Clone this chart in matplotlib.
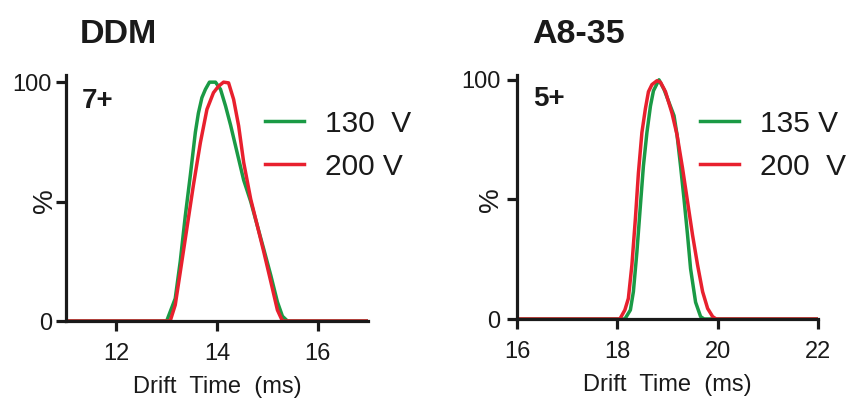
import matplotlib
matplotlib.use("Agg")
import matplotlib.pyplot as plt

plt.rcParams['font.family'] = ['Liberation Sans', 'DejaVu Sans']

# ---- data: DDM, charge state 7+ ----
ddm_130_t = [11.0, 12.9, 13.0, 13.17, 13.27, 13.37, 13.47, 13.57, 13.63, 13.70, 13.77, 13.85,
             13.97, 14.07, 14.17, 14.27, 14.40, 14.53, 14.67, 14.80, 14.93, 15.07, 15.20,
             15.30, 15.40, 17.0]
ddm_130_i = [0, 0, 0, 9.4, 25, 44, 61, 79, 87, 93.5, 97, 100,
             100, 97, 90, 82, 70.5, 59, 50, 40, 30, 19, 8,
             2, 0, 0]
ddm_200_t = [11.0, 13.0, 13.07, 13.17, 13.27, 13.40, 13.53, 13.67, 13.80, 13.93, 14.03, 14.13,
             14.23, 14.33, 14.43, 14.53, 14.67, 14.80, 14.93, 15.07, 15.20, 15.30, 17.0]
ddm_200_i = [0, 0, 0, 6.7, 20.5, 38.6, 56.7, 74.7, 88.6, 95.6, 98.3, 100,
             99.7, 92.8, 81.7, 66.4, 51, 40, 28.9, 16.4, 4.6, 0, 0]

# ---- data: A8-35, charge state 5+ ----
a835_135_t = [16.0, 18.15, 18.26, 18.32, 18.39, 18.46, 18.52, 18.59, 18.66, 18.72, 18.83,
              18.93, 19.03, 19.13, 19.19, 19.26, 19.33, 19.40, 19.46, 19.56, 19.66, 19.73, 22.0]
a835_135_i = [0, 0, 3.75, 11.4, 28, 47.5, 64, 78, 89, 95.4, 100,
              96, 90.5, 85, 77, 64, 50, 35, 21, 7, 1, 0, 0]
a835_200_t = [16.0, 18.05, 18.15, 18.22, 18.29, 18.36, 18.42, 18.49, 18.56, 18.62, 18.69, 18.79,
              18.86, 18.96, 19.09, 19.19, 19.30, 19.40, 19.50, 19.60, 19.70, 19.80, 19.90,
              19.97, 22.0]
a835_200_i = [0, 0, 3.75, 8.6, 22.5, 42, 61, 78, 88, 95, 98, 99.6,
              99, 95, 86, 77, 63, 49, 35, 22.5, 11.4, 4.4, 1,
              0, 0]

left_xticks = [12, 14, 16]
right_xticks = [16, 18, 20, 22]
yticks = [0, 50, 100]
yticklabels = ['0', '', '100']

GREEN = '#1a9a45'
RED = '#e8202e'
INK = '#1a1a1a'

fig = plt.figure(figsize=(8.52, 4.03), dpi=100)

ax1 = fig.add_axes([66/852, 82/403, 302/852, 246/403])
ax2 = fig.add_axes([517/852, 84/403, 301/852, 244/403])

panels = [
    (ax1, ddm_130_t, ddm_130_i, '130  V', ddm_200_t, ddm_200_i, '200 V',
     (11, 17), left_xticks, 103, 'DDM', '7+', 80/852, -0.026, 0.659, 0.858, 3),
    (ax2, a835_135_t, a835_135_i, '135 V', a835_200_t, a835_200_i, '200  V',
     (16, 22), right_xticks, 102, 'A8-35', '5+', 532/852, -0.043, 0.608, 0.857, 5),
]

for (ax, gt, gi, glab, rt, ri, rlab, xlim, xt, ytop, title, charge, tx, ylx,
     legx, legy, ypad) in panels:
    ax.plot(gt, gi, color=GREEN, lw=2.5, label=glab, solid_joinstyle='round')
    ax.plot(rt, ri, color=RED, lw=2.5, label=rlab, solid_joinstyle='round')
    ax.set_xlim(*xlim)
    ax.set_ylim(0, ytop)
    ax.set_xticks(xt)
    ax.set_yticks(yticks)
    ax.set_yticklabels(yticklabels)
    for s in ['top', 'right']:
        ax.spines[s].set_visible(False)
    for s in ['left', 'bottom']:
        ax.spines[s].set_linewidth(2.3)
        ax.spines[s].set_color(INK)
    ax.tick_params(axis='both', direction='out', length=7, width=2.3, color=INK,
                   labelsize=17, labelcolor=INK)
    ax.tick_params(axis='x', pad=9)
    ax.tick_params(axis='y', pad=ypad)
    ax.set_xlabel('Drift  Time  (ms)', fontsize=17, color=INK, labelpad=8)
    ax.set_ylabel('%', fontsize=20, color=INK)
    ax.yaxis.set_label_coords(ylx, 0.49)
    ax.text(0.053, 89, charge, transform=ax.get_yaxis_transform(), fontsize=20,
            fontweight='bold', color=INK, va='baseline', ha='left')
    fig.text(tx, 1 - 43/403, title, fontsize=24.5, fontweight='bold', color=INK,
             ha='left', va='baseline')
    ax.legend(loc='upper left', bbox_to_anchor=(legx, legy), frameon=False,
              fontsize=21.5, handlelength=1.3, handletextpad=0.7, labelspacing=0.5,
              borderpad=0, borderaxespad=0, labelcolor=INK)

fig.savefig('out.png', dpi=100)
